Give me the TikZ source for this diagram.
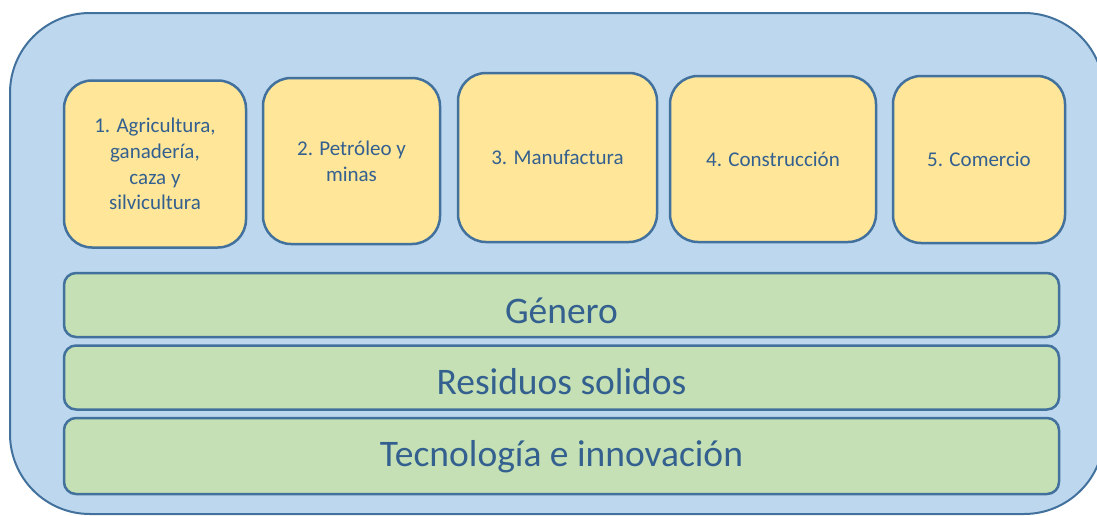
\documentclass[tikz,border=0pt]{standalone}
\usepackage{fontspec}
\setmainfont{Carlito}
\usetikzlibrary{positioning}
\definecolor{frameblue}{HTML}{41719C}
\definecolor{panelblue}{HTML}{BDD7EE}
\definecolor{sectoryellow}{HTML}{FFE699}
\definecolor{themegreen}{HTML}{C5E0B4}
\definecolor{labelblue}{HTML}{33608F}
\begin{document}
\begin{tikzpicture}[
    x=1pt, y=-1pt,
    node distance=6pt,
    panel/.style={draw=frameblue, fill=panelblue, line width=2pt, rounded corners=80pt},
    sector/.style={draw=frameblue, fill=sectoryellow, line width=2.5pt, rounded corners=28pt, align=center, text=labelblue, inner sep=0pt, font=\fontsize{21}{25.7}\selectfont},
    theme/.style={draw=frameblue, fill=themegreen, line width=2.5pt, rounded corners=12pt, minimum width=995pt, minimum height=64pt, text=labelblue, inner sep=0pt, text height=36pt, text depth=0pt, font=\fontsize{37.5}{40}\selectfont}
  ]
    \useasboundingbox (0,0) rectangle (1097,515);
    \clip (0,0) rectangle (1097,515);
    \draw[panel] (10,13) rectangle (1104,514);
    % sectores
    \node[sector, minimum width=182pt, minimum height=167pt] (agri) at (155,164)
    {1. Agricultura,\\ganadería,\\caza y\\silvicultura};
    \node[sector, minimum width=177pt, minimum height=166pt] (petro) at (351.5,161)
    {2. Petróleo y\\minas};
    \node[sector, minimum width=199pt, minimum height=169pt] (manu) at (557.5,157.5)
    {3. Manufactura};
    \node[sector, minimum width=206pt, minimum height=166pt] (constr) at (773,159)
    {4. Construcción};
    \node[sector, minimum width=172pt, minimum height=167pt] (comer) at (979,159.5)
    {5. Comercio};
    % ejes transversales
    \node[theme] (genero) at (561.5,305) {Género};
    \node[theme, below=of genero, text height=33pt] (residuos) {Residuos solidos};
    \node[theme, below=of residuos, minimum height=76pt, text height=21pt] (tecno) {Tecnología e innovación};
\end{tikzpicture}
\end{document}
